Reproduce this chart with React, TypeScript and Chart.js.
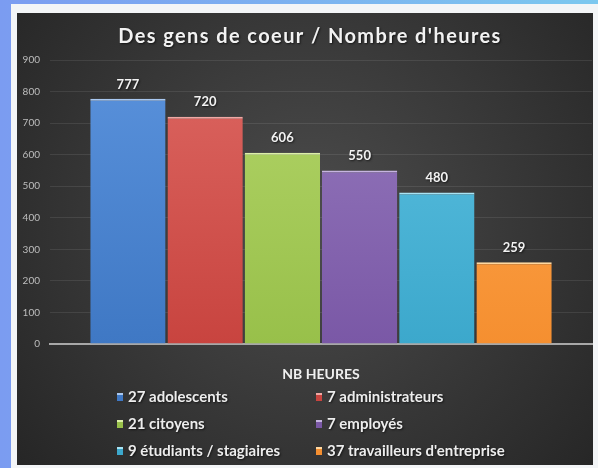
import React, { useEffect, useRef } from "react";
import { Chart, registerables } from "chart.js";

Chart.register(...registerables);

const chartTitle = "Des gens de coeur / Nombre d'heures";
const categories = ["NB HEURES"];
const seriesNames = [
  "27 adolescents",
  "7 administrateurs",
  "21 citoyens",
  "7 employés",
  "9 étudiants / stagiaires",
  "37 travailleurs d'entreprise",
];
const seriesValues = [777, 720, 606, 550, 480, 259];
const seriesTop = ["#5a92dc", "#dc6661", "#b2d468", "#9579bd", "#5cc0e0", "#ffa850"];
const seriesBottom = ["#3f78c4", "#c8443f", "#98c04a", "#7a58a6", "#3ca8cc", "#f58f30"];
const seriesEdge = ["#a9c8f0", "#f0a8a4", "#dcf0a8", "#c6b4e0", "#a8e4f4", "#ffd8a0"];
const yMin = 0;
const yMax = 900;
const yStep = 100;

const FONT = "Lato, 'Open Sans', sans-serif";

const framePlugin = {
  id: "frame",
  beforeDraw(chart: any) {
    const { ctx, width, height } = chart;
    ctx.save();
    const g = ctx.createLinearGradient(0, 0, width, 0);
    g.addColorStop(0, "#7b9cf1");
    g.addColorStop(1, "#7cc8ef");
    ctx.fillStyle = g;
    ctx.fillRect(0, 0, width, height);
    ctx.fillStyle = "#f3f5f7";
    ctx.fillRect(11, 4, width - 11, height - 4);
    const r = ctx.createRadialGradient(310, 220, 10, 310, 220, 390);
    r.addColorStop(0, "#4b4b4b");
    r.addColorStop(1, "#252525");
    ctx.fillStyle = r;
    ctx.fillRect(17, 13, 576, 452);
    ctx.restore();
  },
};

const titlePlugin = {
  id: "spacedTitle",
  afterDraw(chart: any) {
    const { ctx } = chart;
    ctx.save();
    ctx.font = `bold 20px ${FONT}`;
    (ctx as any).letterSpacing = "1.4px";
    ctx.textAlign = "center";
    ctx.textBaseline = "middle";
    ctx.shadowColor = "rgba(0,0,0,0.6)";
    ctx.shadowBlur = 2;
    ctx.shadowOffsetX = 1;
    ctx.shadowOffsetY = 1;
    ctx.fillStyle = "#f2f2f2";
    ctx.fillText(chartTitle, 310, 37);
    ctx.restore();
  },
};

const valueLabelPlugin = {
  id: "valueLabels",
  afterDatasetsDraw(chart: any) {
    const { ctx } = chart;
    ctx.save();
    ctx.font = `bold 13px ${FONT}`;
    ctx.fillStyle = "#f2f2f2";
    ctx.textAlign = "center";
    ctx.textBaseline = "bottom";
    ctx.shadowColor = "rgba(0,0,0,0.6)";
    ctx.shadowBlur = 2;
    ctx.shadowOffsetX = 1;
    ctx.shadowOffsetY = 1;
    chart.data.datasets.forEach((ds: any, i: number) => {
      const meta = chart.getDatasetMeta(i);
      meta.data.forEach((bar: any, j: number) => {
        ctx.fillText(String(ds.data[j]), bar.x, bar.y - 8);
      });
    });
    ctx.restore();
  },
};

const legendPlugin = {
  id: "twoColLegend",
  afterDraw(chart: any) {
    const { ctx } = chart;
    const colX = [117, 316];
    const rowY = [397, 424, 451];
    ctx.save();
    ctx.font = `bold 15px ${FONT}`;
    ctx.textAlign = "left";
    ctx.textBaseline = "middle";
    chart.data.datasets.forEach((ds: any, i: number) => {
      const x = colX[i % 2];
      const y = rowY[Math.floor(i / 2)];
      ctx.shadowColor = "transparent";
      ctx.fillStyle = seriesBottom[i];
      ctx.fillRect(x, y - 4, 6, 8);
      ctx.fillStyle = seriesEdge[i];
      ctx.fillRect(x, y - 4, 6, 2);
      ctx.shadowColor = "rgba(0,0,0,0.6)";
      ctx.shadowBlur = 2;
      ctx.shadowOffsetX = 1;
      ctx.shadowOffsetY = 1;
      ctx.fillStyle = "#ededed";
      ctx.fillText(ds.label, x + 11, y);
    });
    ctx.restore();
  },
};

export default function App() {
  const canvasRef = useRef<HTMLCanvasElement | null>(null);

  useEffect(() => {
    document.body.style.margin = "0";
    const canvas = canvasRef.current;
    if (!canvas) return;

    const datasets = seriesNames.map((name, i) => ({
      label: name,
      data: [seriesValues[i]],
      backgroundColor: (c: any) => {
        const area = c.chart.chartArea;
        if (!area) return seriesBottom[i];
        const g = c.chart.ctx.createLinearGradient(0, area.top, 0, area.bottom);
        g.addColorStop(0, seriesTop[i]);
        g.addColorStop(1, seriesBottom[i]);
        return g;
      },
      borderColor: seriesEdge[i],
      borderWidth: { top: 2, left: 0, right: 0, bottom: 0 },
      borderSkipped: false,
      categoryPercentage: 0.855,
      barPercentage: 0.975,
    }));

    const chart = new Chart(canvas, {
      type: "bar",
      data: { labels: categories, datasets },
      plugins: [framePlugin, valueLabelPlugin, legendPlugin, titlePlugin],
      options: {
        animation: false,
        responsive: true,
        maintainAspectRatio: false,
        layout: { padding: { left: 0, right: 6, top: 60, bottom: 0 } },
        plugins: {
          legend: { display: false },
          tooltip: { enabled: false },
          title: { display: false },
        },
        scales: {
          x: {
            afterFit: (scale: any) => {
              scale.height = 124;
            },
            grid: { display: false, drawTicks: false },
            border: { display: true, color: "#a8a8a8", width: 2 },
            ticks: {
              color: "#f0f0f0",
              padding: 22,
              font: { family: FONT, size: 14, weight: "bold" },
            },
          },
          y: {
            min: yMin,
            max: yMax,
            afterFit: (scale: any) => {
              scale.width = 50;
            },
            grid: { color: "rgba(255,255,255,0.09)", drawTicks: false },
            border: { display: false },
            ticks: {
              stepSize: yStep,
              color: "#bdbdbd",
              padding: 10,
              font: { family: FONT, size: 10 },
            },
          },
        },
      },
    });

    return () => chart.destroy();
  }, []);

  return (
    <div style={{ width: 598, height: 468, position: "relative" }}>
      <canvas ref={canvasRef} style={{ display: "block" }} />
    </div>
  );
}
